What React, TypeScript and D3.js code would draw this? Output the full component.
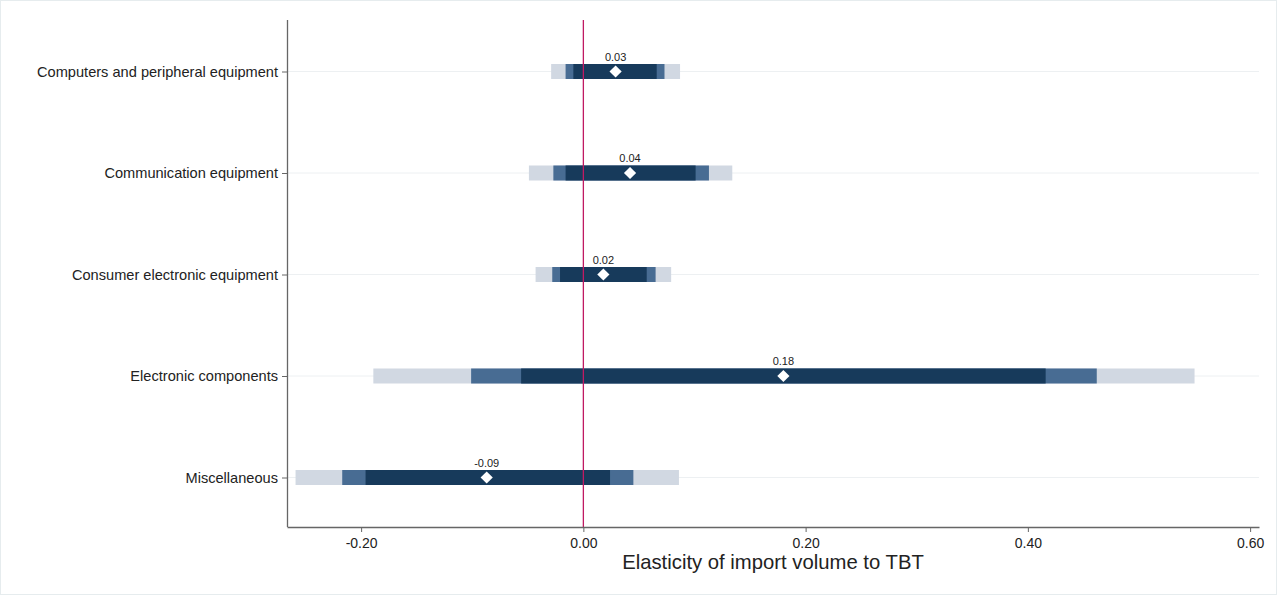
import { useEffect, useRef } from 'react'
import * as d3 from 'd3'

// Categories, top to bottom
const categories = [
  'Computers and peripheral equipment',
  'Communication equipment',
  'Consumer electronic equipment',
  'Electronic components',
  'Miscellaneous'
]

// Point estimates and label text
const estimates = [0.029, 0.042, 0.018, 0.18, -0.087]
const estimateLabels = ['0.03', '0.04', '0.02', '0.18', '-0.09']

// Confidence intervals (outer / middle / inner)
const ciOuterLow = [-0.029, -0.049, -0.043, -0.189, -0.259]
const ciOuterHigh = [0.087, 0.134, 0.079, 0.55, 0.086]
const ciMidLow = [-0.016, -0.027, -0.028, -0.101, -0.217]
const ciMidHigh = [0.073, 0.113, 0.065, 0.462, 0.045]
const ciInnerLow = [-0.009, -0.016, -0.021, -0.056, -0.196]
const ciInnerHigh = [0.066, 0.101, 0.057, 0.416, 0.024]

const xTicks = [-0.2, 0, 0.2, 0.4, 0.6]

export default function App() {
  const svgRef = useRef<SVGSVGElement>(null)

  useEffect(() => {
    if (!svgRef.current) return
    const root = d3.select(svgRef.current)
    root.selectAll('*').remove()

    const width = 1280
    const height = 597
    const margin = { top: 20, right: 21, bottom: 70, left: 287 }
    const innerWidth = width - margin.left - margin.right
    const innerHeight = height - margin.top - margin.bottom
    const font = 'Liberation Sans, Arial, sans-serif'

    // page frame
    root.append('rect')
      .attr('x', 0.5).attr('y', 0.5)
      .attr('width', width - 4).attr('height', height - 3)
      .attr('fill', '#fff')
      .attr('stroke', '#e6ecee')

    const svg = root.append('g')
      .attr('transform', `translate(${margin.left},${margin.top})`)

    const xScale = d3.scaleLinear()
      .domain([-0.2667, 0.608])
      .range([0, innerWidth])

    const yScale = d3.scalePoint<string>()
      .domain(categories)
      .range([51.5, 457.5])

    const rows = categories.map((c, i) => ({
      name: c,
      est: estimates[i],
      label: estimateLabels[i],
      bands: [
        { lo: ciOuterLow[i], hi: ciOuterHigh[i], color: '#d1d8e2' },
        { lo: ciMidLow[i], hi: ciMidHigh[i], color: '#486c93' },
        { lo: ciInnerLow[i], hi: ciInnerHigh[i], color: '#173a5b' }
      ]
    }))

    // grid lines
    svg.append('g')
      .selectAll('line')
      .data(categories)
      .enter()
      .append('line')
      .attr('x1', 0)
      .attr('x2', innerWidth)
      .attr('y1', d => yScale(d)!)
      .attr('y2', d => yScale(d)!)
      .attr('stroke', '#edf0f2')
      .attr('stroke-width', 1)

    // bars
    const barH = 15
    const rowG = svg.selectAll('g.row')
      .data(rows)
      .enter()
      .append('g')
      .attr('class', 'row')

    rowG.selectAll('rect')
      .data(d => d.bands.map(b => ({ ...b, y: yScale(d.name)! })))
      .enter()
      .append('rect')
      .attr('x', d => xScale(d.lo))
      .attr('width', d => xScale(d.hi) - xScale(d.lo))
      .attr('y', d => d.y - barH / 2)
      .attr('height', barH)
      .attr('fill', d => d.color)

    // zero line
    svg.append('line')
      .attr('x1', xScale(0))
      .attr('x2', xScale(0))
      .attr('y1', 0)
      .attr('y2', innerHeight)
      .attr('stroke', '#c01a62')
      .attr('stroke-width', 1.3)

    // diamonds
    const diamond = d3.symbol().type(d3.symbolDiamond2).size(95)
    rowG.append('path')
      .attr('d', diamond)
      .attr('transform', d => `translate(${xScale(d.est)},${yScale(d.name)})`)
      .attr('fill', '#fff')

    // value labels
    rowG.append('text')
      .attr('x', d => xScale(d.est))
      .attr('y', d => yScale(d.name)! - 11)
      .attr('text-anchor', 'middle')
      .attr('font-family', font)
      .attr('font-size', 11)
      .attr('fill', '#222')
      .text(d => d.label)

    // x axis
    const xAxis = svg.append('g')
      .attr('transform', `translate(0,${innerHeight})`)
      .call(d3.axisBottom(xScale)
        .tickValues(xTicks)
        .tickSize(5)
        .tickSizeOuter(0)
        .tickFormat(d => d3.format('.2f')(d as number).replace('\u2212', '-')))
    xAxis.select('.domain').attr('stroke', '#666').attr('stroke-width', 1.3)
    xAxis.selectAll('.tick line').attr('stroke', '#666')
    xAxis.selectAll('.tick text')
      .attr('font-family', font)
      .attr('font-size', 14)
      .attr('fill', '#222')
      .attr('dy', '0.9em')

    // y axis
    const yAxis = svg.append('g')
      .call(d3.axisLeft(yScale).tickSize(5).tickSizeOuter(0).tickPadding(4))
    yAxis.select('.domain').attr('stroke', '#666').attr('stroke-width', 1.3)
      .attr('d', `M0.5,0V${innerHeight}`)
    yAxis.selectAll('.tick line').attr('stroke', '#666')
    yAxis.selectAll('.tick text')
      .attr('font-family', font)
      .attr('font-size', 14.6)
      .attr('fill', '#222')

    // axis title
    svg.append('text')
      .attr('x', innerWidth / 2)
      .attr('y', innerHeight + 42)
      .attr('text-anchor', 'middle')
      .attr('font-family', font)
      .attr('font-size', 20.3)
      .attr('fill', '#222')
      .text('Elasticity of import volume to TBT')
  }, [])

  return (
    <div style={{ position: 'absolute', left: 0, top: 0 }}>
      <svg ref={svgRef} width={1280} height={597}></svg>
    </div>
  )
}
